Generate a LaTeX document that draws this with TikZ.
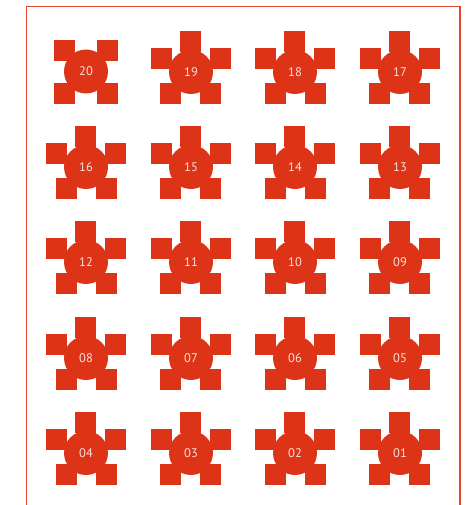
\documentclass[tikz,border=0pt]{standalone}
\usepackage{fontspec}
\setmainfont{PT Sans}
\definecolor{brick}{HTML}{DD3418}
\tikzset{
  px/.style={x=1pt,y=-1pt},
  petal/.style={fill=brick,draw=none,minimum size=21pt,inner sep=0pt,outer sep=0pt,shape=rectangle},
  hub/.style={circle,fill=brick,draw=none,minimum size=44pt,inner sep=0pt,text=white!85!brick,font=\fontsize{12.5pt}{13pt}\selectfont},
  frameline/.style={draw=brick!90!white,line width=1.5pt}
}
% #1 centre x, #2 centre y, #3 label, #4 shift of the two lower petals
\newcommand{\fivepetal}[4]{%
  \node[petal] (t#3) at (#1-0.5,#2-30.5) {};
  \node[petal] (l#3) at (#1-29.5,#2-13.5) {};
  \node[petal] (r#3) at (#1+29.5,#2-13.5) {};
  \node[petal] (a#3) at (#1-20+#4,#2+21.5) {};
  \node[petal] (b#3) at (#1+20+#4,#2+21.5) {};
  \node[hub] (h#3) at (#1,#2) {#3};
}
\begin{document}
\begin{tikzpicture}[px]
\useasboundingbox (0,0) rectangle (467,505);
\coordinate (fa) at (26.3,510);
\coordinate (fb) at (26.3,6.4);
\coordinate (fc) at (459.8,6.4);
\coordinate (fd) at (459.8,510);
\begin{scope}
\clip (0,0) rectangle (467,505);
\draw[frameline] (fa) -- (fb) -- (fc) -- (fd);
\end{scope}
% top-left: four petals
\node[petal] (p1) at (64.5,50.5) {};
\node[petal] (p2) at (107.5,50.5) {};
\node[petal] (p3) at (64.5,93.5) {};
\node[petal] (p4) at (107.5,93.5) {};
\node[hub] (h20) at (86,71.5) {20};
\fivepetal{191}{72}{19}{-0.5}
\fivepetal{295}{72}{18}{0.5}
\fivepetal{400}{72}{17}{-0.5}
\fivepetal{86}{167}{16}{0.5}
\fivepetal{191}{167}{15}{-0.5}
\fivepetal{295}{167}{14}{0.5}
\fivepetal{400}{167}{13}{-0.5}
\fivepetal{86}{262}{12}{0.5}
\fivepetal{191}{262}{11}{-0.5}
\fivepetal{295}{262}{10}{0.5}
\fivepetal{400}{262}{09}{-0.5}
\fivepetal{86}{358}{08}{0.5}
\fivepetal{191}{358}{07}{-0.5}
\fivepetal{295}{358}{06}{0.5}
\fivepetal{400}{358}{05}{-0.5}
\fivepetal{86}{453}{04}{0.5}
\fivepetal{191}{453}{03}{-0.5}
\fivepetal{295}{453}{02}{0.5}
\fivepetal{400}{453}{01}{-0.5}
\end{tikzpicture}
\end{document}
